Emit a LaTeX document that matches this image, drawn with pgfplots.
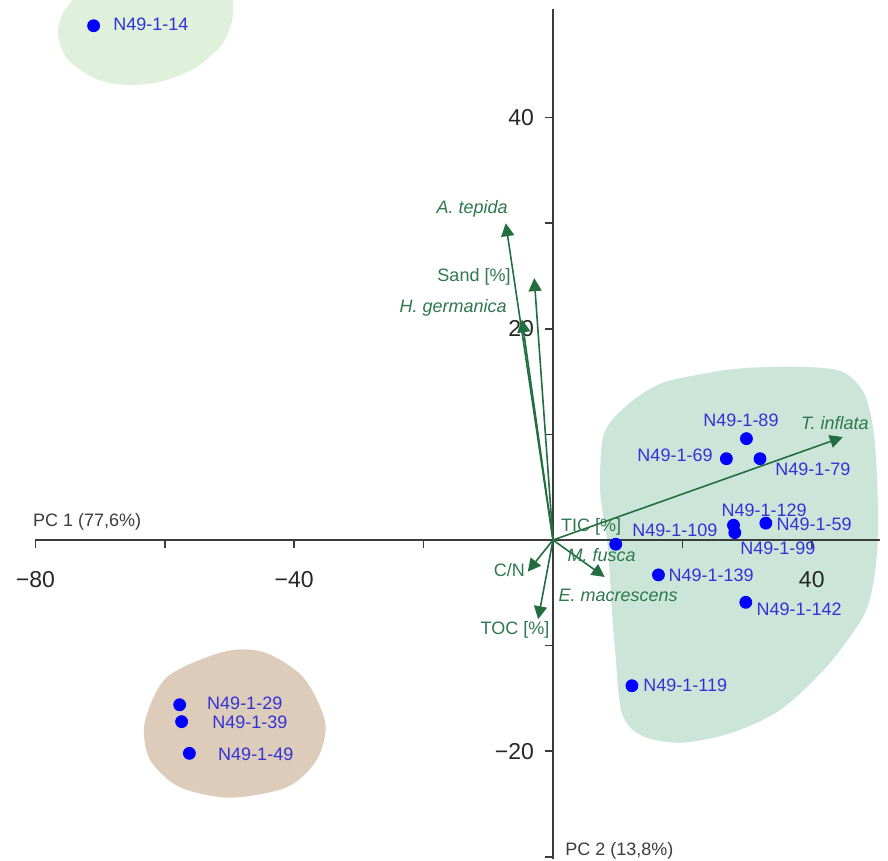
\documentclass[border=0pt]{standalone}
\usepackage{fontspec}
\setmainfont{Liberation Sans}
\usepackage{pgfplots}
\pgfplotsset{compat=1.18}
\usetikzlibrary{arrows.meta}
\definecolor{ptblue}{RGB}{0,0,255}
\definecolor{lblblue}{RGB}{50,50,215}
\definecolor{arrgreen}{RGB}{35,110,65}
\definecolor{txtgreen}{RGB}{45,120,80}
\definecolor{blobA}{RGB}{223,240,219}
\definecolor{blobB}{RGB}{222,204,187}
\definecolor{blobC}{RGB}{204,229,217}
\definecolor{axgray}{RGB}{60,60,60}
\tikzset{
  lbl/.style={anchor=west, inner sep=0pt, font=\fontsize{9}{11}\selectfont, text=lblblue},
  glbl/.style={inner sep=0pt, font=\fontsize{9}{11}\selectfont\itshape, text=txtgreen},
  glblu/.style={inner sep=0pt, font=\fontsize{9}{11}\selectfont, text=txtgreen},
  arr/.style={arrgreen, line width=0.8pt, -{Triangle[length=6.5pt,width=6.5pt]}},
}
\begin{document}
\begin{tikzpicture}
\begin{axis}[
  x=3.235pt, y=5.28pt,
  xmin=-80, xmax=50.5, ymin=-30.2, ymax=50.3,
  axis lines=middle,
  axis line style={-, draw=axgray, line width=0.9pt},
  clip=false, set layers=standard,
  xtick={-80,-60,...,40}, xticklabels={−80,,−40,,,,40},
  ytick={-30,-20,...,40}, yticklabels={,−20,,,,20,,40},
  tick align=outside, major tick length=4pt,
  tick style={draw=axgray, line width=0.8pt},
  ticklabel style={font=\fontsize{11.5}{13}\selectfont, text=black!85},
  xticklabel style={yshift=-8pt},
  yticklabel style={xshift=-2pt},
]
% hulls
\addplot[on layer=axis background, fill=blobA, draw=none, smooth cycle] coordinates {
 (-74.3,51.1) (-75.9,49.7) (-76.5,47.8) (-75.0,45.5) (-70.8,43.7) (-66.1,43.1)
 (-60.7,43.4) (-55.3,44.7) (-51.2,46.9) (-49.6,49.2) (-49.5,51.1) (-50.2,53.0)
 (-62.3,53.8) (-72.3,52.6)};
\addplot[on layer=axis background, fill=blobB, draw=none, smooth cycle] coordinates {
 (-51.0,-10.6) (-44.8,-10.6) (-38.6,-13.0) (-35.2,-17.3) (-36.5,-20.8) (-41.1,-23.4)
 (-49.9,-24.4) (-57.7,-23.4) (-62.3,-20.8) (-63.1,-17.3) (-59.7,-13.0)};
\addplot[on layer=axis background, fill=blobC, draw=none, smooth cycle] coordinates {
 (24.7,15.9) (30.0,16.3) (38.0,16.4) (44.5,16.0) (48.0,14.0) (49.5,10.5) (50.1,5.7) (50.2,0)
 (49.5,-4.1) (47.9,-7.3) (42.3,-12.0) (35.1,-16.1) (27.4,-18.3) (19.6,-19.2)
 (13.6,-18.5) (10.6,-16.3) (9.6,-10.4) (9.1,-6.6) (8.8,-3.5) (8.3,0.3) (7.3,4.7)
 (7.9,10.1) (11.9,13.0) (17.0,14.9)};
% loadings
\addplot[arr] coordinates {(0,0) (-7.3,30.0)};
\addplot[arr] coordinates {(0,0) (-2.9,24.8)};
\addplot[arr] coordinates {(0,0) (-4.8,20.9)};
\addplot[arr] coordinates {(0,0) (44.8,9.75)};
\addplot[arr] coordinates {(0,0) (8.0,-3.5)};
\addplot[arr] coordinates {(0,0) (-3.9,-3.0)};
\addplot[arr] coordinates {(0,0) (-2.3,-7.5)};
% samples
\addplot[only marks, mark=*, mark size=3pt, color=ptblue] coordinates {
 (-71.0,48.7) (-57.7,-15.6) (-57.4,-17.2) (-56.2,-20.2)
 (29.9,9.6) (26.8,7.7) (32.0,7.7) (27.9,1.4) (28.1,0.7) (32.9,1.6)
 (9.7,-0.4) (16.3,-3.3) (29.8,-5.9) (12.2,-13.8)};
% sample labels
\node[lbl] at (axis cs:-68.0,48.8) {N49-1-14};
\node[lbl] at (axis cs:23.2,11.3) {N49-1-89};
\node[lbl] at (axis cs:13.0,8.05) {N49-1-69};
\node[lbl] at (axis cs:34.3,6.7) {N49-1-79};
\node[lbl] at (axis cs:26.0,2.84) {N49-1-129};
\node[lbl] at (axis cs:12.2,0.95) {N49-1-109};
\node[lbl] at (axis cs:34.5,1.5) {N49-1-59};
\node[lbl] at (axis cs:28.9,-0.76) {N49-1-99};
\node[lbl] at (axis cs:17.8,-3.3) {N49-1-139};
\node[lbl] at (axis cs:31.4,-6.6) {N49-1-142};
\node[lbl] at (axis cs:13.9,-13.8) {N49-1-119};
\node[lbl] at (axis cs:-53.5,-15.5) {N49-1-29};
\node[lbl] at (axis cs:-52.7,-17.3) {N49-1-39};
\node[lbl] at (axis cs:-51.8,-20.3) {N49-1-49};
% loading labels
\node[glbl, anchor=east] at (axis cs:-6.95,31.4) {A. tepida};
\node[glblu, anchor=east] at (axis cs:-6.5,24.9) {Sand [\%]};
\node[glbl, anchor=east] at (axis cs:-7.1,22.0) {H. germanica};
\node[glbl, anchor=west] at (axis cs:38.3,11.1) {T. inflata};
\node[glblu, anchor=west] at (axis cs:1.2,1.25) {TIC [\%]};
\node[glbl, anchor=west] at (axis cs:2.2,-1.4) {M. fusca};
\node[glbl, anchor=west] at (axis cs:0.8,-5.2) {E. macrescens};
\node[glblu, anchor=east] at (axis cs:-4.3,-2.85) {C/N};
\node[glblu, anchor=east] at (axis cs:-0.5,-8.5) {TOC [\%]};
% axis titles
\node[anchor=west, inner sep=0pt, font=\fontsize{9}{11}\selectfont, text=axgray] at (axis cs:-80.4,1.7) {PC 1 (77,6\%)};
\node[anchor=west, inner sep=0pt, font=\fontsize{9}{11}\selectfont, text=axgray] at (axis cs:1.85,-29.4) {PC 2 (13,8\%)};
\coordinate (bbsw) at (axis cs:-85.47,-30.32);
\coordinate (bbne) at (axis cs:51.78,51.14);
\end{axis}
\pgfresetboundingbox
\path (bbsw) rectangle (bbne);
\end{tikzpicture}
\end{document}
